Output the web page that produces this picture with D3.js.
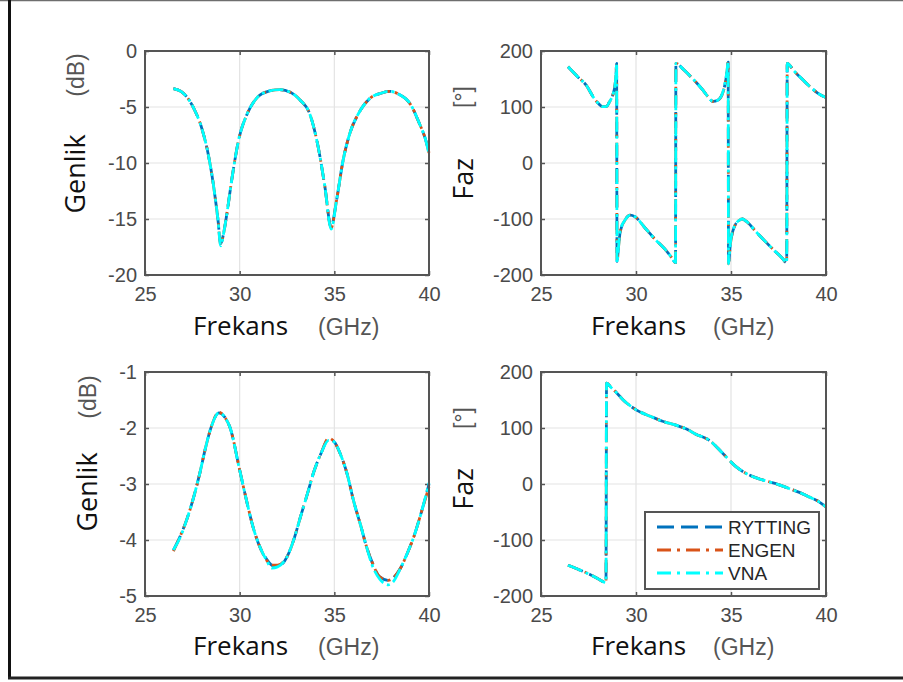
<!DOCTYPE html>
<html>
<head>
<meta charset="utf-8">
<script src="https://cdn.jsdelivr.net/npm/d3@7"></script>
<style>
  html, body { margin: 0; padding: 0; background: #fff; }
  svg { display: block; }
</style>
</head>
<body>
<svg id="chart" width="903" height="682"></svg>
<script>
// ---------------- DATA ----------------
const seriesNames = ["RYTTING", "ENGEN", "VNA"];
const xTicks = [25, 30, 35, 40];

// Top-left: magnitude (dB)
const freqMag1 = [26.5, 26.9, 27.3, 27.6, 28.0, 28.35, 28.6, 28.85, 29.0, 29.15, 29.3, 29.6, 29.95, 30.4, 30.9, 31.5, 32.1, 32.7, 33.2, 33.7, 34.15, 34.5, 34.83, 35.12, 35.47, 35.83, 36.27, 36.9, 37.5, 37.9, 38.4, 39.0, 39.5, 39.8, 40.0];
const mag1Rytting = [-3.35, -3.6, -4.3, -5.2, -6.9, -9.3, -11.8, -15.0, -17.2, -16.3, -14.8, -11.3, -7.9, -5.6, -4.2, -3.6, -3.45, -3.7, -4.4, -5.6, -8.6, -12.1, -15.7, -13.3, -9.7, -7.3, -5.6, -4.2, -3.75, -3.6, -3.85, -4.7, -6.5, -7.8, -9.0];
const mag1Engen   = [-3.35, -3.6, -4.3, -5.2, -6.9, -9.3, -11.8, -15.0, -17.3, -16.3, -14.8, -11.3, -7.9, -5.6, -4.2, -3.6, -3.45, -3.7, -4.4, -5.6, -8.6, -12.1, -15.8, -13.3, -9.7, -7.3, -5.6, -4.2, -3.75, -3.6, -3.85, -4.7, -6.5, -7.8, -9.1];
const mag1Vna     = [-3.35, -3.6, -4.3, -5.2, -6.9, -9.3, -11.8, -15.0, -17.4, -16.3, -14.8, -11.3, -7.9, -5.6, -4.2, -3.6, -3.45, -3.7, -4.4, -5.6, -8.6, -12.1, -15.9, -13.3, -9.7, -7.3, -5.6, -4.2, -3.75, -3.6, -3.85, -4.7, -6.5, -7.8, -9.2];
const yTicks1 = [0, -5, -10, -15, -20];

// Top-right: phase (deg)
const freqPh2 = [26.42, 26.9, 27.4, 27.75, 28.0, 28.26, 28.45, 28.6, 28.8, 28.9, 28.95, 28.98, 29.0, 29.08, 29.16, 29.42, 29.7, 29.95, 30.5, 31.0, 31.5, 31.9, 32.08, 32.1, 32.5, 33.0, 33.5, 33.8, 34.05, 34.3, 34.5, 34.65, 34.78, 34.85, 34.87, 34.95, 35.05, 35.2, 35.45, 35.6, 35.8, 36.3, 36.8, 37.3, 37.7, 37.93, 37.96, 38.3, 38.8, 39.2, 39.6, 40.0];
const ph2Rytting = [172, 155, 138, 118, 107, 100.5, 101, 109, 124, 140, 160, 178, -176, -150, -125, -102, -93, -96, -117, -136, -153, -170, -178, 178, 167, 150, 131, 118, 110, 112, 120, 135, 160, 180, -180, -150, -128, -112, -102, -100, -104, -122, -140, -157, -170, -178, 178, 165, 148, 135, 124, 117];
const ph2Engen   = ph2Rytting.slice();
const ph2Vna     = [172, 155, 138, 118, 107, 100.5, 101, 109, 124, 140, 160, 178, -178, -150, -122, -102, -93, -96, -117, -136, -153, -170, -178, 178, 167, 150, 131, 118, 110, 112, 120, 137, 162, 180, -180, -148, -126, -112, -102, -100, -104, -122, -140, -157, -170, -178, 178, 165, 148, 135, 124, 117];
const yTicks2 = [200, 100, 0, -100, -200];

// Bottom-left: magnitude (dB)
const freqMag3 = [26.5, 26.9, 27.2, 27.6, 27.9, 28.2, 28.5, 28.9, 29.2, 29.5, 30.0, 30.4, 30.7, 31.1, 31.4, 31.7, 32.0, 32.5, 32.9, 33.2, 33.6, 33.9, 34.3, 34.7, 35.0, 35.3, 35.7, 36.0, 36.4, 36.7, 37.0, 37.4, 37.85, 38.1, 38.5, 38.9, 39.2, 39.6, 40.0];
const mag3Rytting = [-4.18, -3.9, -3.64, -3.2, -2.8, -2.35, -1.98, -1.73, -1.8, -2.0, -2.75, -3.35, -3.76, -4.15, -4.33, -4.45, -4.48, -4.3, -3.95, -3.6, -3.15, -2.8, -2.45, -2.2, -2.25, -2.45, -2.85, -3.28, -3.75, -4.12, -4.4, -4.66, -4.72, -4.68, -4.5, -4.2, -3.94, -3.5, -3.0];
const mag3Engen   = [-4.2, -3.9, -3.64, -3.2, -2.8, -2.35, -1.98, -1.72, -1.8, -2.0, -2.75, -3.35, -3.76, -4.15, -4.35, -4.45, -4.45, -4.3, -3.95, -3.6, -3.15, -2.8, -2.45, -2.18, -2.25, -2.45, -2.85, -3.28, -3.75, -4.12, -4.4, -4.66, -4.72, -4.68, -4.5, -4.2, -3.94, -3.5, -3.05];
const mag3Vna     = [-4.18, -3.92, -3.64, -3.2, -2.8, -2.35, -1.98, -1.73, -1.8, -2.0, -2.75, -3.35, -3.76, -4.15, -4.35, -4.5, -4.48, -4.3, -3.95, -3.6, -3.15, -2.8, -2.45, -2.22, -2.25, -2.45, -2.85, -3.28, -3.75, -4.12, -4.45, -4.7, -4.8, -4.75, -4.5, -4.2, -3.94, -3.5, -2.98];
const yTicks3 = [-1, -2, -3, -4, -5];

// Bottom-right: phase (deg)
const freqPh4 = [26.42, 27.0, 27.6, 28.0, 28.42, 28.45, 28.7, 29.0, 29.33, 30.03, 30.75, 31.4, 32.1, 32.6, 33.15, 33.86, 34.56, 35.26, 35.96, 36.5, 37.0, 37.5, 38.05, 38.6, 39.1, 39.6, 40.0];
const ph4Rytting = [-145, -153, -162, -169, -176, 180, 172, 162, 150, 132, 121, 112, 105, 99, 89, 78, 55, 31, 16, 9, 4, -1, -8, -15, -23, -31, -41];
const ph4Engen   = ph4Rytting.slice();
const ph4Vna     = ph4Rytting.slice();
const yTicks4 = [200, 100, 0, -100, -200];

// ---------------- STYLES ----------------
const seriesStyle = {
  RYTTING: { color: "#0072BD", dash: "16,7" },
  ENGEN:   { color: "#D95319", dash: "13,5,3,5" },
  VNA:     { color: "#00FFFF", dash: "15,4,3,4" }
};

const svg = d3.select("#chart");

// Outer frame (screenshot border)
svg.append("line").attr("x1", 0).attr("x2", 903).attr("y1", 0.5).attr("y2", 0.5)
  .attr("stroke", "#6e6e6e").attr("stroke-width", 1.5);
svg.append("line").attr("x1", 9.5).attr("x2", 9.5).attr("y1", 0).attr("y2", 679)
  .attr("stroke", "#111").attr("stroke-width", 3);
svg.append("line").attr("x1", 8).attr("x2", 903).attr("y1", 678).attr("y2", 678)
  .attr("stroke", "#222").attr("stroke-width", 3);

const panels = [
  { left: 145, right: 429, top: 51, bottom: 275, yDomain: [-20, 0], yTicks: yTicks1,
    freq: freqMag1, series: [mag1Rytting, mag1Engen, mag1Vna],
    yLabel: "Genlik", yUnit: "(dB)", yLabelX: 85, yLabelY: 174, yUnitX: 84, yUnitY: 75,
    xLabelX: 193, xUnitX: 318, xLabelY: 335 },
  { left: 541, right: 826, top: 51, bottom: 275, yDomain: [-200, 200], yTicks: yTicks2,
    freq: freqPh2, series: [ph2Rytting, ph2Engen, ph2Vna],
    yLabel: "Faz", yUnit: "[°]", yLabelX: 473, yLabelY: 179, yUnitX: 471, yUnitY: 97,
    xLabelX: 591, xUnitX: 713, xLabelY: 335 },
  { left: 145, right: 429, top: 372, bottom: 596, yDomain: [-5, -1], yTicks: yTicks3,
    freq: freqMag3, series: [mag3Rytting, mag3Engen, mag3Vna],
    yLabel: "Genlik", yUnit: "(dB)", yLabelX: 97, yLabelY: 492, yUnitX: 96, yUnitY: 397,
    xLabelX: 193, xUnitX: 318, xLabelY: 655 },
  { left: 541, right: 826, top: 372, bottom: 596, yDomain: [-200, 200], yTicks: yTicks4,
    freq: freqPh4, series: [ph4Rytting, ph4Engen, ph4Vna],
    yLabel: "Faz", yUnit: "[°]", yLabelX: 473, yLabelY: 489, yUnitX: 471, yUnitY: 418,
    xLabelX: 591, xUnitX: 713, xLabelY: 655, legend: true }
];

const tickFont = "'Liberation Sans', Arial, sans-serif";
const labelFont = "'Open Sans', 'Noto Sans', sans-serif";
const fmt = d => String(d);

panels.forEach((p, pi) => {
  const x = d3.scaleLinear().domain([25, 40]).range([p.left, p.right]);
  const y = d3.scaleLinear().domain(p.yDomain).range([p.bottom, p.top]);
  const g = svg.append("g");
  const w = p.right - p.left, h = p.bottom - p.top;

  // grid
  g.append("g").selectAll("line").data(xTicks).join("line")
    .attr("x1", d => x(d)).attr("x2", d => x(d)).attr("y1", p.top).attr("y2", p.bottom)
    .attr("stroke", "#e3e3e3").attr("stroke-width", 1.2);
  g.append("g").selectAll("line").data(p.yTicks).join("line")
    .attr("x1", p.left).attr("x2", p.right).attr("y1", d => y(d)).attr("y2", d => y(d))
    .attr("stroke", "#e3e3e3").attr("stroke-width", 1.2);

  // axes (inward ticks, MATLAB style)
  const xAxisB = d3.axisBottom(x).tickValues(xTicks).tickSize(-4).tickPadding(12).tickFormat(fmt);
  const xAxisT = d3.axisTop(x).tickValues(xTicks).tickSize(-4).tickFormat("");
  const yAxisL = d3.axisLeft(y).tickValues(p.yTicks).tickSize(-4).tickPadding(8).tickFormat(fmt);
  const yAxisR = d3.axisRight(y).tickValues(p.yTicks).tickSize(-4).tickFormat("");
  const styleAxis = sel => {
    sel.select(".domain").remove();
    sel.selectAll(".tick line").attr("stroke", "#555").attr("stroke-width", 1.5);
    sel.selectAll(".tick text").attr("fill", "#4a4a4a").attr("font-size", 20)
      .attr("font-family", tickFont);
  };
  g.append("g").attr("transform", `translate(0,${p.bottom})`).call(xAxisB).call(styleAxis);
  g.append("g").attr("transform", `translate(0,${p.top})`).call(xAxisT).call(styleAxis);
  g.append("g").attr("transform", `translate(${p.left},0)`).call(yAxisL).call(styleAxis);
  g.append("g").attr("transform", `translate(${p.right},0)`).call(yAxisR).call(styleAxis);

  // lines
  const line = d3.line().x(d => x(d[0])).y(d => y(d[1])).curve(d3.curveMonotoneX);
  p.series.forEach((vals, si) => {
    const st = seriesStyle[seriesNames[si]];
    const pts = p.freq.map((f, i) => [f, vals[i]]);
    g.append("path").datum(pts).attr("d", line)
      .attr("fill", "none").attr("stroke", st.color).attr("stroke-width", 2.8)
      .attr("stroke-dasharray", st.dash).attr("stroke-linejoin", "round");
  });

  // box
  g.append("rect").attr("x", p.left).attr("y", p.top).attr("width", w).attr("height", h)
    .attr("fill", "none").attr("stroke", "#555").attr("stroke-width", 2);

  // x label
  g.append("text").attr("x", p.xLabelX).attr("y", p.xLabelY)
    .attr("font-family", labelFont).attr("font-size", 26).attr("fill", "#111").text("Frekans");
  g.append("text").attr("x", p.xUnitX).attr("y", p.xLabelY)
    .attr("font-family", tickFont).attr("font-size", 23).attr("fill", "#555").text("(GHz)");

  // y label
  g.append("text").attr("transform", `translate(${p.yLabelX},${p.yLabelY}) rotate(-90)`)
    .attr("text-anchor", "middle").attr("font-family", labelFont).attr("font-size", 27)
    .attr("fill", "#111").text(p.yLabel);
  g.append("text").attr("transform", `translate(${p.yUnitX},${p.yUnitY}) rotate(-90)`)
    .attr("text-anchor", "middle").attr("font-family", tickFont).attr("font-size", 23)
    .attr("fill", "#555").text(p.yUnit);

  if (p.legend) {
    const lx = 645, ly = 512, lw = 174, lh = 77;
    const lg = svg.append("g");
    lg.append("rect").attr("x", lx).attr("y", ly).attr("width", lw).attr("height", lh)
      .attr("fill", "#fff").attr("stroke", "#555").attr("stroke-width", 2);
    seriesNames.forEach((name, i) => {
      const st = seriesStyle[name];
      const yy = ly + 15 + i * 23;
      lg.append("line").attr("x1", lx + 12).attr("x2", lx + 78).attr("y1", yy).attr("y2", yy)
        .attr("stroke", st.color).attr("stroke-width", 2.8)
        .attr("stroke-dasharray", name === "RYTTING" ? "17,7" : "14,6,3,6");
      lg.append("text").attr("x", lx + 83).attr("y", yy + 7)
        .attr("font-family", tickFont).attr("font-size", 19).attr("fill", "#262626").text(name);
    });
  }
});
</script>
</body>
</html>
